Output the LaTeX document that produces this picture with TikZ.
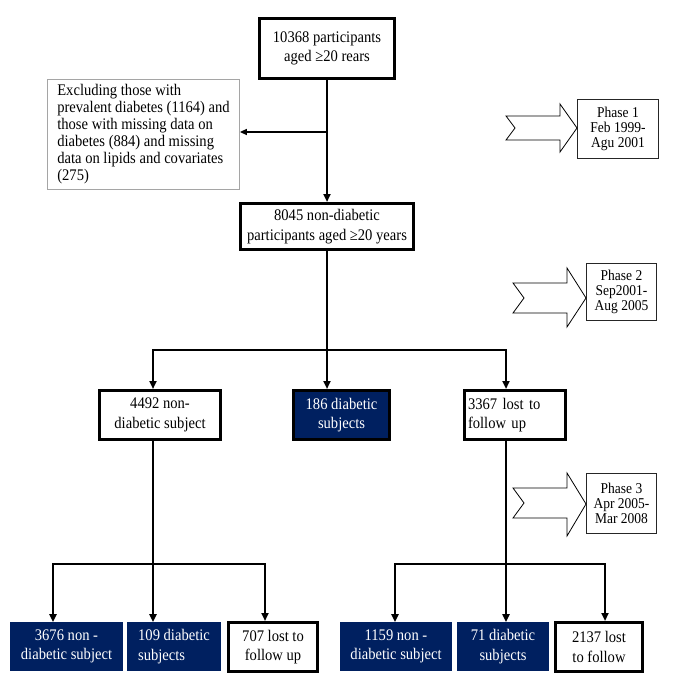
\documentclass[tikz,border=0pt]{standalone}
\usepackage{fontspec}
\setmainfont{Liberation Serif}[FakeStretch=0.9]
\usetikzlibrary{arrows.meta,calc}
\definecolor{navy}{RGB}{0,32,96}
\definecolor{exgray}{RGB}{165,165,165}
\begin{document}
\begin{tikzpicture}[x=1pt,y=-1pt,
 txt/.style={font=\fontsize{16.2}{19.5}\selectfont, align=center, inner sep=0pt},
 thickbox/.style={txt, draw=black, line width=3pt, fill=white},
 navybox/.style={txt, draw=navy, line width=0.8pt, fill=navy, text=white},
 navythick/.style={txt, draw=black, line width=3pt, fill=navy, text=white},
 exbox/.style={draw=exgray, line width=0.8pt, align=left, inner sep=0pt, font=\fontsize{16.2}{17}\selectfont},
 phasebox/.style={draw=black!85, line width=0.8pt, align=center, inner sep=0pt, font=\fontsize{15}{15}\selectfont},
 conn/.style={line width=2.4pt, -{Triangle[length=8pt,width=7pt]}},
 plainline/.style={line width=2.4pt},
 thinconn/.style={line width=1.3pt, -{Triangle[length=7pt,width=6pt]}},
 chev/.style={draw=black, line width=0.8pt, fill=white, line join=miter},
]
\useasboundingbox (0,0) rectangle (685,695);
\fill[white] (0,0) rectangle (685,695);

% first level
\node[thickbox, minimum width=135pt, minimum height=60pt] (top) at (327,48.5) {10368 participants\\aged ≥20 rears};
\node[exbox, minimum width=192pt, minimum height=110pt] (ex) at (143.5,134.5) {Excluding those with\\prevalent diabetes (1164) and\\those with missing data on\\diabetes (884) and missing\\data on lipids and covariates\\(275)};
\node[thickbox, minimum width=173pt, minimum height=46pt] (n8045) at (327,226.5) {8045 non-diabetic\\participants aged ≥20 years};

% second level
\node[thickbox, minimum width=121pt, minimum height=49pt] (n4492) at (160,415) {4492 non-\\diabetic subject};
\node[navythick, minimum width=96pt, minimum height=49pt] (n186) at (341.5,415) {186 diabetic\\subjects};
\node[thickbox, minimum width=101pt, minimum height=49pt, text width=94pt, align=left] (n3367) at (515,415) {3367 lost to\\follow up};

% third level
\node[navybox, minimum width=112pt, minimum height=48pt] (n3676) at (66.5,646.5) {3676 non -\\diabetic subject};
\node[navybox, minimum width=93pt, minimum height=48pt, align=left] (n109) at (174,646.5) {109 diabetic\\subjects};
\node[thickbox, minimum width=89pt, minimum height=49pt] (n707) at (273,647) {707 lost to\\follow up};
\node[navybox, minimum width=111pt, minimum height=48pt] (n1159) at (396,646.5) {1159 non -\\diabetic subject};
\node[navybox, minimum width=91pt, minimum height=48pt] (n71) at (503,646.5) {71 diabetic\\subjects};
\node[thickbox, minimum width=87pt, minimum height=49pt] (n2137) at (599,647) {2137 lost\\to follow};

% connectors
\coordinate (b0) at (327,132);
\coordinate (b1) at (327,350);
\coordinate (b2) at (153,564);
\coordinate (b3) at (506,564);
\draw[conn] (top.south) -- (n8045.north);
\draw[thinconn] (b0) -- (ex.east |- b0);
\draw[plainline] (n8045.south) -- (b1);
\draw[conn] (b1) -- (n186.north -| b1);
\draw[conn, line join=miter] (b1) -| ([xshift=-7pt]n4492.north);
\draw[conn, line join=miter] (b1) -| ([xshift=-9pt]n3367.north);
\draw[plainline] ([xshift=-7pt]n4492.south) -- (b2);
\draw[conn, line join=miter] (b2) -| ([xshift=-13.5pt]n3676.north);
\draw[conn] (b2) -- (n109.north -| b2);
\draw[conn, line join=miter] (b2) -| ([xshift=-8pt]n707.north);
\draw[plainline] ([xshift=-9pt]n3367.south) -- (b3);
\draw[conn, line join=miter] (b3) -| ([xshift=-1pt]n1159.north);
\draw[conn] (b3) -- (n71.north -| b3);
\draw[conn, line join=miter] (b3) -| ([xshift=6pt]n2137.north);

% phase boxes
\node[phasebox, minimum width=81pt, minimum height=59pt] (p1) at (618,129) {Phase 1\\Feb 1999-\\Agu 2001};
\node[phasebox, minimum width=70pt, minimum height=57pt] (p2) at (621.5,292) {Phase 2\\Sep2001-\\Aug 2005};
\node[phasebox, minimum width=70pt, minimum height=60pt] (p3) at (621.5,503.5) {Phase 3\\Apr 2005-\\Mar 2008};

% phase chevron arrows
\draw[chev] (506,116) -- (560,116) -- (560,104) -- (577,128) -- (560,152) -- (560,140) -- (506,140) -- (515,128) -- cycle;
\draw[chev] (513,283) -- (567,283) -- (567,268) -- (586,298) -- (567,327) -- (567,313) -- (513,313) -- (524,298) -- cycle;
\draw[chev] (513,488) -- (567,488) -- (567,473) -- (586,504) -- (567,536) -- (567,518) -- (513,518) -- (524,503) -- cycle;
\end{tikzpicture}
\end{document}
